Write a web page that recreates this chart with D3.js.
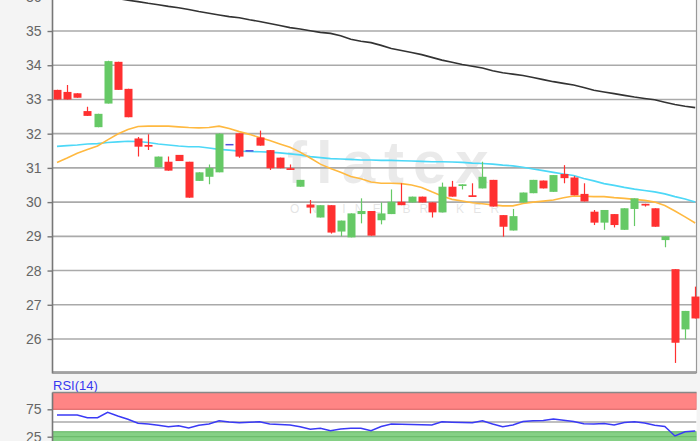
<!DOCTYPE html>
<html><head><meta charset="utf-8">
<script src="https://cdn.jsdelivr.net/npm/d3@7"></script>
<style>body{margin:0;background:#f4f4f4}svg{display:block}</style>
</head><body>
<svg id="c" width="700" height="441"></svg>
<script>
const opens  = [33.28,33.22,33.18,32.66,32.19,32.88,34.10,33.31,31.86,31.67,31.02,31.18,31.38,31.18,30.62,30.74,30.87,31.70,32.01,31.52,31.89,31.52,31.30,30.99,30.45,29.93,29.55,29.91,29.14,28.97,29.65,29.74,29.47,29.65,30.01,29.99,30.16,29.99,29.70,30.45,30.47,30.20,30.40,30.65,29.62,29.17,29.99,30.26,30.63,30.30,30.82,30.72,30.24,29.72,29.40,29.65,29.19,29.80,29.95,29.82,28.89,28.04,26.28,27.24];
const highs  = [33.28,33.42,33.18,32.79,32.58,34.13,34.10,33.31,31.90,31.98,31.33,31.33,31.38,31.18,30.87,31.10,32.01,31.70,32.01,31.52,32.09,31.52,31.30,31.10,30.65,30.06,29.91,29.91,29.46,29.67,30.11,29.74,29.99,30.37,30.55,30.16,30.16,29.99,30.57,30.62,30.52,30.55,31.18,30.65,29.62,29.80,30.28,30.65,30.63,30.79,31.08,30.76,30.55,29.77,29.77,29.65,29.82,30.11,29.95,29.82,29.00,28.04,26.82,27.53];
const lows   = [33.00,33.00,33.05,32.52,32.19,32.88,33.28,32.48,31.33,31.52,31.02,30.92,31.20,30.13,30.62,30.52,30.87,31.70,31.30,31.52,31.65,30.94,30.99,30.94,30.45,29.67,29.55,29.08,29.00,28.97,29.38,29.02,29.35,29.65,29.91,29.99,29.99,29.55,29.70,30.16,30.37,30.15,30.40,29.87,28.99,29.17,29.99,30.26,30.40,30.30,30.55,30.20,30.02,29.33,29.19,29.26,29.19,29.30,29.87,29.28,28.68,25.30,25.99,26.60];
const closes = [33.00,33.00,33.05,32.52,32.58,34.12,33.28,32.48,31.62,31.62,31.33,30.92,31.20,30.13,30.87,31.00,32.00,31.70,31.33,31.52,31.65,30.99,30.99,30.94,30.65,29.84,29.91,29.11,29.46,29.67,29.74,29.02,29.67,30.01,29.91,30.16,29.99,29.70,30.45,30.16,30.52,30.15,30.74,29.87,29.28,29.59,30.28,30.65,30.40,30.79,30.70,30.20,30.02,29.40,29.77,29.33,29.82,30.11,29.90,29.28,29.00,25.89,26.82,26.60];
// long moving average (black), starts at index 5
const maLong = [null,null,null,null,null,36.00,35.95,35.90,35.86,35.81,35.77,35.72,35.68,35.63,35.57,35.52,35.47,35.42,35.39,35.33,35.28,35.22,35.16,35.10,35.06,35.01,34.96,34.93,34.86,34.76,34.70,34.66,34.58,34.49,34.43,34.37,34.31,34.23,34.15,34.09,34.02,33.97,33.92,33.84,33.78,33.74,33.70,33.64,33.58,33.52,33.47,33.42,33.35,33.27,33.22,33.17,33.12,33.07,33.03,32.99,32.92,32.85,32.80,32.76];
const maShort = [31.16,31.29,31.43,31.54,31.64,31.82,31.99,32.12,32.21,32.22,32.22,32.22,32.20,32.18,32.17,32.18,32.22,32.15,32.06,31.98,31.89,31.80,31.70,31.60,31.46,31.29,31.11,30.98,30.87,30.75,30.68,30.59,30.55,30.55,30.54,30.50,30.43,30.30,30.18,30.08,30.03,29.98,29.95,29.92,29.89,29.89,29.96,30.00,30.03,30.06,30.13,30.18,30.17,30.16,30.16,30.13,30.11,30.08,30.05,30.00,29.90,29.74,29.57,29.39];
const maMid = [31.63,31.65,31.67,31.70,31.71,31.74,31.76,31.78,31.77,31.74,31.70,31.67,31.64,31.62,31.62,31.58,31.54,31.52,31.49,31.48,31.47,31.46,31.44,31.41,31.38,31.33,31.30,31.27,31.26,31.25,31.23,31.23,31.22,31.22,31.21,31.20,31.19,31.18,31.18,31.17,31.16,31.14,31.13,31.11,31.08,31.06,31.02,30.97,30.92,30.87,30.82,30.78,30.69,30.62,30.54,30.49,30.43,30.38,30.34,30.30,30.24,30.16,30.09,30.00];
const rsi = [64.6,64.6,64.6,59.7,59.7,69.5,62.8,56.8,49.5,48.2,45.8,43.2,45.1,40.9,45.8,48.2,54.2,51.8,50.5,51.3,52.4,48.2,47.3,46.4,43.2,38.5,40.3,36.0,39.1,40.3,40.3,36.0,43.6,48.2,47.6,47.3,46.9,46.4,52.4,51.5,50.9,50.5,54.2,48.2,43.2,46.4,52.7,54.0,54.6,57.3,54.9,52.7,48.5,48.2,49.1,46.4,50.9,52.4,50.0,45.8,43.6,26.3,34.1,35.4];
const priceTicks = [26,27,28,29,30,31,32,33,34,35,36];
const rsiTicks = [75,25];
const rsiBands = {over:[75,110], under:[-20,34]};
const rsiLabel = "RSI(14)";

const svg = d3.select("#c");
const W = 700, H = 441;
const L = 52.5, R = 696.5, T = 0, B = 373;
const x = d3.scaleLinear().domain([0, 63]).range([57, 695.2]);
const y = d3.scaleLinear().domain([25, 36]).range([373.2, -3.2]);
const ry = d3.scaleLinear().domain([25, 75]).range([436.7, 409.3]);
const RT = 392.5;

svg.append("rect").attr("width", W).attr("height", H).attr("fill", "#f4f4f4");
const defs = svg.append("defs");
defs.append("clipPath").attr("id","pc").append("rect").attr("x",L).attr("y",T).attr("width",R-L).attr("height",B-T);
defs.append("clipPath").attr("id","cc").append("rect").attr("x",L).attr("y",T).attr("width",W-L).attr("height",B-T);
defs.append("clipPath").attr("id","rc").append("rect").attr("x",L).attr("y",RT).attr("width",R-L).attr("height",H-RT);

// main plot bg
svg.append("rect").attr("x",L).attr("y",T).attr("width",R-L).attr("height",B-T).attr("fill","#fff");

const plot = svg.append("g").attr("clip-path","url(#pc)");
// watermark
plot.append("text").attr("x",287).attr("y",183).attr("font-family","Liberation Sans, Arial, sans-serif")
  .attr("font-weight","bold").attr("font-size",60).attr("letter-spacing",9).attr("fill","#000").attr("opacity",0.08).text("flatex");
plot.append("text").attr("x",290).attr("y",213).attr("font-family","Liberation Sans, Arial, sans-serif")
  .attr("font-size",12).attr("letter-spacing",9.2).attr("fill","#000").attr("opacity",0.1).text("ONLINE BROKER");

// grid
plot.selectAll("line.g").data(priceTicks).join("line").attr("class","g")
  .attr("x1",L).attr("x2",R).attr("y1",d=>y(d)).attr("y2",d=>y(d)).attr("stroke","#aaa").attr("stroke-width",1.6);
plot.append("line").attr("x1",L).attr("x2",R).attr("y1",371.6).attr("y2",371.6).attr("stroke","#aaa").attr("stroke-width",1.2);

// moving averages
const ln = arr => d3.line().defined(d=>d!=null).x((d,i)=>x(i)).y(d=>y(d))(arr);
plot.append("path").attr("d",ln(maLong)).attr("fill","none").attr("stroke","#333").attr("stroke-width",1.6);
plot.append("path").attr("d",ln(maMid)).attr("fill","none").attr("stroke","#4dd8f7").attr("stroke-width",1.6);
plot.append("path").attr("d",ln(maShort)).attr("fill","none").attr("stroke","#ffb940").attr("stroke-width",1.6);

// axes frame (right border under candles)
svg.append("line").attr("x1",R).attr("x2",R).attr("y1",0).attr("y2",B).attr("stroke","#999").attr("stroke-width",1.2);

// candles
const idx = d3.range(opens.length);
const col = i => closes[i] > opens[i] ? "#66c966" : (closes[i] < opens[i] ? "#ff3030" : "#5050dd");
const cg = svg.append("g").attr("clip-path","url(#cc)");
cg.selectAll("line.w").data(idx).join("line").attr("class","w")
  .attr("x1",i=>Math.round(x(i))+0.5).attr("x2",i=>Math.round(x(i))+0.5)
  .attr("y1",i=>y(highs[i])).attr("y2",i=>y(lows[i])).attr("stroke",col).attr("stroke-width",1.2);
cg.selectAll("rect.b").data(idx).join("rect").attr("class","b")
  .attr("x",i=>Math.round(x(i))-3.5).attr("width",8)
  .attr("y",i=>y(Math.max(opens[i],closes[i])))
  .attr("height",i=>Math.max(1.5, y(Math.min(opens[i],closes[i])) - y(Math.max(opens[i],closes[i]))))
  .attr("fill",col);

svg.append("line").attr("x1",L).attr("x2",L).attr("y1",0).attr("y2",B+0.5).attr("stroke","#777").attr("stroke-width",1.6);
svg.append("line").attr("x1",L).attr("x2",R).attr("y1",B).attr("y2",B).attr("stroke","#888").attr("stroke-width",1.4);
const ax = svg.append("g").attr("transform",`translate(${L},0)`)
  .call(d3.axisLeft(y).tickValues(priceTicks).tickSize(5).tickPadding(6).tickFormat(d3.format("d")));
ax.select(".domain").remove();
ax.selectAll("line").attr("stroke","#777").attr("stroke-width",1.4);
ax.selectAll("text").attr("font-family","Liberation Sans, Arial, sans-serif").attr("font-size",14).attr("fill","#666");

// RSI panel
svg.append("text").attr("x",53).attr("y",390).attr("font-family","Liberation Sans, Arial, sans-serif")
  .attr("font-size",13).attr("fill","#3838f0").text(rsiLabel);
svg.append("rect").attr("x",L).attr("y",RT).attr("width",R-L).attr("height",H-RT).attr("fill","#fff");
const rp = svg.append("g").attr("clip-path","url(#rc)");
rp.append("rect").attr("x",L).attr("width",R-L).attr("y",ry(rsiBands.over[1])).attr("height",ry(rsiBands.over[0])-ry(rsiBands.over[1]))
  .attr("fill","#ff8585").attr("stroke","#e06a6a").attr("stroke-width",1.2);
rp.append("rect").attr("x",L).attr("width",R-L).attr("y",ry(rsiBands.under[1])).attr("height",ry(rsiBands.under[0])-ry(rsiBands.under[1]))
  .attr("fill","#85d085").attr("stroke","#6cbc6c").attr("stroke-width",1.2);
rp.append("line").attr("x1",L).attr("x2",R).attr("y1",ry(50)-1).attr("y2",ry(50)-1).attr("stroke","#aaa").attr("stroke-width",1.4);
rp.append("line").attr("x1",L).attr("x2",R).attr("y1",ry(25)).attr("y2",ry(25)).attr("stroke","#6cbc6c").attr("stroke-width",1.2);
rp.append("path").attr("d",d3.line().x((d,i)=>x(i)).y(d=>ry(d))(rsi)).attr("fill","none").attr("stroke","#3a3af5").attr("stroke-width",1.5);
svg.append("line").attr("x1",L).attr("x2",L).attr("y1",RT).attr("y2",H).attr("stroke","#777").attr("stroke-width",1.6);
svg.append("line").attr("x1",L).attr("x2",R).attr("y1",RT).attr("y2",RT).attr("stroke","#888").attr("stroke-width",1.4);
const rax = svg.append("g").attr("transform",`translate(${L},0)`)
  .call(d3.axisLeft(ry).tickValues(rsiTicks).tickSize(5).tickPadding(6));
rax.select(".domain").remove();
rax.selectAll("line").attr("stroke","#777").attr("stroke-width",1.4);
rax.selectAll("text").attr("font-family","Liberation Sans, Arial, sans-serif").attr("font-size",14).attr("fill","#666");
</script>
</body></html>
